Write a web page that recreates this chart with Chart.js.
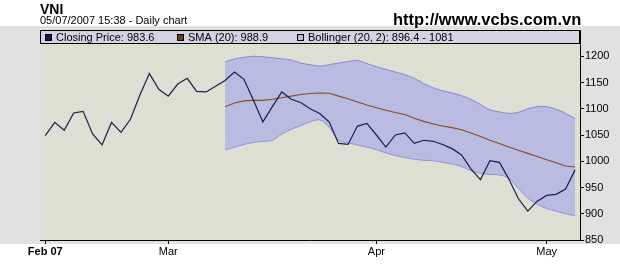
<!DOCTYPE html>
<html>
<head>
<meta charset="utf-8">
<script src="https://cdn.jsdelivr.net/npm/chart.js@4.4.0/dist/chart.umd.min.js"></script>
<style>
html,body{margin:0;padding:0;background:#fff;}
canvas{display:block;}
</style>
</head>
<body>
<canvas id="c" width="620" height="271"></canvas>
<script>
// ---- data ----
const closing = [1049,1074,1059,1092,1095,1052,1031,1074,1055,1080,1126,1167,1137,1124,1147,1158,1133,1132,1143,1154,1170,1156,1116,1075,1104,1132,1118,1112,1100,1091,1075,1034,1032,1067,1072,1050,1027,1050,1054,1034,1040,1038,1032,1024,1012,985,965,1001,998,966,929,905,924,935,937,947,983.6];
const bandStart = 19;
const sma20 = [1104,1111,1115,1116,1116,1118,1121,1124,1127,1129,1130,1129.5,1124,1119,1113,1107,1102,1097,1093,1089,1082,1076,1071,1067,1064,1060,1054,1047,1040,1034,1027,1021,1015,1009,1003,997,991,988.9];
const bollUpper = [1189,1195,1198,1200,1199,1197,1195,1193,1187,1184,1181,1184,1187,1190,1192,1186,1180,1175,1170,1165,1158,1148,1140,1134,1130,1125,1118,1108,1098,1094,1091,1093,1100,1104,1104,1099,1091,1081];
const bollLower = [1022,1027,1032,1036,1038,1040,1052,1061,1068,1075,1079,1065,1040,1035,1031,1027,1022,1016,1011,1007,1004,1002,1001,998,995,990,982,977,975,974,968,948,930,918,910,905,900,896.4];
const tickIndex = [0,13,35,53];
const tickLabels = ['Feb 07','Mar','Apr','May'];
const yTicks = [850,900,950,1000,1050,1100,1150,1200];
const legendItems = ['Closing Price: 983.6','SMA (20): 988.9','Bollinger (20, 2): 896.4 - 1081'];
const titleText = 'VNI';
const subtitleText = '05/07/2007 15:38 - Daily chart';
const urlText = 'http://www.vcbs.com.vn';

const FONT = '"Liberation Sans", Arial, sans-serif';
const pts = (arr, start) => arr.map((v, i) => ({x: i + start, y: v}));

const decor = {
  id: 'decor',
  beforeDraw(chart) {
    const c = chart.ctx, a = chart.chartArea;
    c.save();
    c.fillStyle = '#ffffff';
    c.fillRect(0, 0, chart.width, chart.height);
    c.fillStyle = '#e1e1e1';
    c.fillRect(0, 26, chart.width, 218);
    c.fillStyle = '#dedfd3';
    c.fillRect(a.left, a.top, a.right - a.left, a.bottom - a.top);
    c.fillStyle = '#000';
    c.textBaseline = 'alphabetic';
    c.font = 'bold 14px ' + FONT;
    c.fillText(titleText, 40, 14);
    c.font = '11px ' + FONT;
    c.fillText(subtitleText, 40, 24);
    c.font = 'bold 16.5px ' + FONT;
    c.fillText(urlText, 393, 25);
    c.restore();
  },
  afterDraw(chart) {
    const c = chart.ctx, a = chart.chartArea;
    c.save();
    c.fillStyle = '#d3d3e3';
    c.fillRect(a.left, 31, a.right - a.left, 13);
    c.strokeStyle = '#000';
    c.lineWidth = 1;
    c.strokeRect(a.left + 0.5, 30.5, a.right - a.left - 1, 13);
    const xs = [45, 177, 297];
    const cols = ['#141446', '#6e3a1c', '#b9b9ec'];
    c.font = '11px ' + FONT;
    c.textBaseline = 'middle';
    for (let i = 0; i < legendItems.length; i++) {
      c.fillStyle = cols[i];
      c.fillRect(xs[i], 34, 7, 7);
      c.strokeStyle = '#000';
      c.strokeRect(xs[i] + 0.5, 34.5, 6, 6);
      c.fillStyle = '#000';
      c.fillText(legendItems[i], xs[i] + 11, 38);
    }
    c.restore();
  }
};

new Chart(document.getElementById('c'), {
  type: 'line',
  data: {
    datasets: [
      {label: 'Closing', data: pts(closing, 0), borderColor: '#1c1c4c', borderWidth: 1.2, pointRadius: 0, tension: 0, fill: false, order: 0},
      {label: 'SMA', data: pts(sma20, bandStart), borderColor: '#8a4a26', borderWidth: 1.1, pointRadius: 0, tension: 0, fill: false, order: 1},
      {label: 'Upper', data: pts(bollUpper, bandStart), borderColor: '#8686dc', borderWidth: 1, pointRadius: 0, tension: 0.3, fill: '+1', backgroundColor: 'rgba(165,165,232,0.62)', order: 2},
      {label: 'Lower', data: pts(bollLower, bandStart), borderColor: '#8686dc', borderWidth: 1, pointRadius: 0, tension: 0.3, fill: false, order: 2}
    ]
  },
  options: {
    responsive: false,
    animation: false,
    devicePixelRatio: 1,
    layout: {padding: {left: 40, top: 30, right: 0, bottom: 0}},
    plugins: {legend: {display: false}, tooltip: {enabled: false}},
    scales: {
      x: {
        type: 'linear',
        min: -0.56,
        max: 56.52,
        afterFit(s) { s.height = 31; },
        afterBuildTicks(s) { s.ticks = tickIndex.map(v => ({value: v})); },
        ticks: {
          autoSkip: false,
          maxRotation: 0,
          padding: 1,
          color: '#000',
          font: (ctx) => ({family: FONT, size: 11, weight: (ctx.tick && ctx.tick.value === 0) ? 'bold' : 'normal'}),
          callback: (v) => { const k = tickIndex.indexOf(v); return k >= 0 ? tickLabels[k] : null; }
        },
        grid: {drawOnChartArea: false, drawTicks: true, tickLength: 4, color: '#000'},
        border: {display: true, color: '#000', width: 1}
      },
      y: {
        position: 'right',
        min: 850,
        max: 1250,
        afterFit(s) { s.width = 40; },
        afterBuildTicks(s) { s.ticks = yTicks.map(v => ({value: v})); },
        ticks: {padding: 1, color: '#000', font: {family: FONT, size: 11}, callback: (v) => String(v)},
        grid: {drawOnChartArea: false, drawTicks: true, tickLength: 4, color: '#000'},
        border: {display: true, color: '#000', width: 1}
      }
    }
  },
  plugins: [decor]
});
</script>
</body>
</html>
